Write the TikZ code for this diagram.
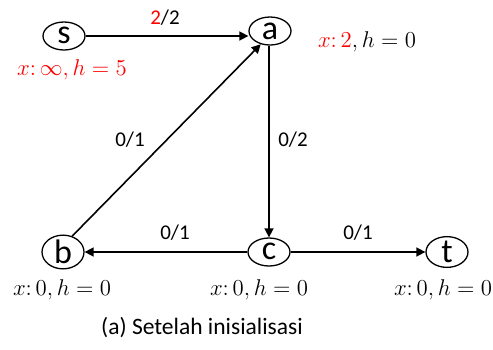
\documentclass[tikz,border=0pt]{standalone}
\usepackage[no-math]{fontspec}
\usepackage{graphicx}
\setmainfont{Carlito}
\usetikzlibrary{shapes.geometric,arrows.meta}
\newcommand\mymath[1]{\scalebox{1.9}{\fontsize{12}{12}\selectfont$#1$}}
\tikzset{
  vert/.style={ellipse,draw,line width=1.3pt,minimum width=42pt,minimum height=28pt,inner sep=0pt,font=\fontsize{34}{34}\selectfont},
  edge/.style={line width=1.6pt,-{Triangle[length=9pt,width=9pt]}},
  lbl/.style={font=\fontsize{21}{21}\selectfont},
  info/.style={inner sep=0pt}
}
\begin{document}
\begin{tikzpicture}[x=1pt,y=-1pt]
\useasboundingbox (0,0) rectangle (493,349);
\node[vert] (s) at (64,36) {\raisebox{1.5pt}{s}};
\node[vert] (a) at (270,31) {\raisebox{0pt}{a}};
\node[vert] (b) at (63,252) {\raisebox{0pt}{b}};
\node[vert] (c) at (269,252) {\raisebox{1.5pt}{c}};
\node[vert] (t) at (447,252) {\raisebox{0pt}{t}};
\draw[edge] (s.east) -- (a.west |- s.east);
\draw[edge] (a.south -| c.north) -- (c.north);
\draw[edge] (b.60) -- (a.235);
\draw[edge] (c.west) -- (b.east);
\draw[edge] (c.east) -- (t.west);
\node[lbl] (l1) at (165,18) {\textcolor{red}{2}/2};
\node[lbl] (l2) at (130,140) {0/1};
\node[lbl] (l3) at (293,140) {0/2};
\node[lbl] (l4) at (175,233) {0/1};
\node[lbl] (l5) at (358,233) {0/1};
\node[info,text=red] (is) at (72,70) {\mymath{x\colon\infty, h=5}};
\node[info] (ia) at (367,42) {\mymath{\textcolor{red}{x\colon 2}, h=0}};
\node[info] (ib) at (62,290) {\mymath{x\colon 0, h=0}};
\node[info] (ic) at (259,290) {\mymath{x\colon 0, h=0}};
\node[info] (it) at (443,290) {\mymath{x\colon 0, h=0}};
\node[font=\fontsize{23.5}{23.5}\selectfont] (caption) at (202,328) {(a) Setelah inisialisasi};
\end{tikzpicture}
\end{document}
